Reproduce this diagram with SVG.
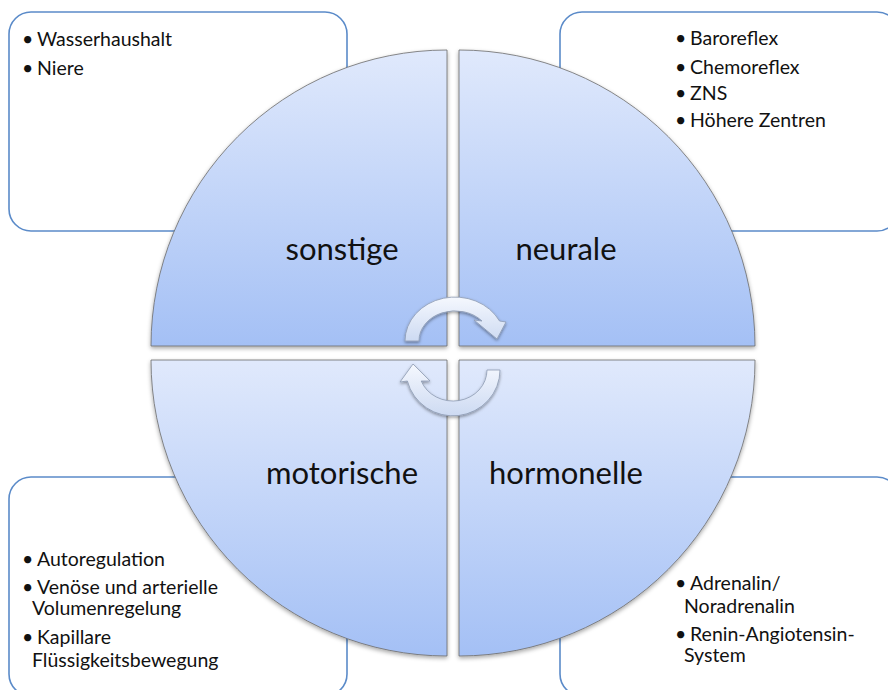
<svg xmlns="http://www.w3.org/2000/svg" width="888" height="690" viewBox="0 0 888 690">
<style>
.box{fill:#ffffff;stroke:#5b8bc9;stroke-width:1.6}
.quad{stroke:#6b6b6b;stroke-width:0.8;filter:url(#sh)}
.lbl{font-family:Lato,"Open Sans","Liberation Sans",sans-serif;font-size:31px;fill:#111;text-anchor:middle}
.item{font-family:Lato,"Open Sans","Liberation Sans",sans-serif;font-size:19.5px;fill:#111}
.arrow{fill:url(#ag);stroke:#8d9bb3;stroke-width:0.8;filter:url(#ash)}
</style>
<defs>
<linearGradient id="qg" x1="0" y1="0" x2="0" y2="1">
<stop offset="0" stop-color="#e0e9fc"/>
<stop offset="1" stop-color="#a4c0f5"/>
</linearGradient>
<linearGradient id="ag" x1="0" y1="0" x2="0" y2="1">
<stop offset="0" stop-color="#f5f8fe"/>
<stop offset="1" stop-color="#cddaf2"/>
</linearGradient>
<filter id="sh" x="-10%" y="-10%" width="120%" height="120%">
<feDropShadow dx="0" dy="2" stdDeviation="2" flood-color="#000" flood-opacity="0.35"/>
</filter>
<filter id="ash" x="-20%" y="-20%" width="140%" height="140%">
<feDropShadow dx="0" dy="1.5" stdDeviation="1.5" flood-color="#000" flood-opacity="0.4"/>
</filter>
</defs>

<g id="box-sonstige">
<rect class="box" x="9" y="12" width="338" height="219" rx="22"/>
<text class="item" x="22" y="46"><tspan>•</tspan><tspan x="37">Wasserhaushalt</tspan></text>
<text class="item" x="22" y="75"><tspan>•</tspan><tspan x="37">Niere</tspan></text>
</g>
<g id="box-neurale">
<rect class="box" x="560" y="12" width="339" height="219" rx="22"/>
<text class="item" x="675" y="45"><tspan>•</tspan><tspan x="690">Baroreflex</tspan></text>
<text class="item" x="675" y="74"><tspan>•</tspan><tspan x="690">Chemoreflex</tspan></text>
<text class="item" x="675" y="100"><tspan>•</tspan><tspan x="690">ZNS</tspan></text>
<text class="item" x="675" y="127"><tspan>•</tspan><tspan x="690">Höhere Zentren</tspan></text>
</g>
<g id="box-motorische">
<rect class="box" x="9" y="477" width="338" height="219" rx="22"/>
<text class="item" x="22" y="566"><tspan>•</tspan><tspan x="37">Autoregulation</tspan></text>
<text class="item" x="22" y="594"><tspan>•</tspan><tspan x="37">Venöse und arterielle</tspan></text>
<text class="item" x="32" y="615">Volumenregelung</text>
<text class="item" x="22" y="644"><tspan>•</tspan><tspan x="37">Kapillare</tspan></text>
<text class="item" x="32" y="667">Flüssigkeitsbewegung</text>
</g>
<g id="box-hormonelle">
<rect class="box" x="560" y="477" width="339" height="219" rx="22"/>
<text class="item" x="675" y="590"><tspan>•</tspan><tspan x="690">Adrenalin/</tspan></text>
<text class="item" x="684" y="613">Noradrenalin</text>
<text class="item" x="675" y="641"><tspan>•</tspan><tspan x="690">Renin-Angiotensin-</tspan></text>
<text class="item" x="684" y="662">System</text>
</g>

<g id="quad-sonstige">
<path class="quad" fill="url(#qg)" d="M447,346 L151,346 A296,296 0 0 1 447,50 Z"/>
<text class="lbl" x="342" y="260">sonstige</text>
</g>
<g id="quad-neurale">
<path class="quad" fill="url(#qg)" d="M459,346 L459,50 A296,296 0 0 1 755,346 Z"/>
<text class="lbl" x="566" y="260">neurale</text>
</g>
<g id="quad-motorische">
<path class="quad" fill="url(#qg)" d="M447,360 L447,656 A296,296 0 0 1 151,360 Z"/>
<text class="lbl" x="342" y="484">motorische</text>
</g>
<g id="quad-hormonelle">
<path class="quad" fill="url(#qg)" d="M459,360 L755,360 A296,296 0 0 1 459,656 Z"/>
<text class="lbl" x="566" y="484">hormonelle</text>
</g>

<g id="connectors">
<path class="arrow" d="M405,341 A50,44 0 0 1 499.5,321 L506,322 L497,339 L474,320 L482,321 A36,30 0 0 0 419,341 Z"/>
<path class="arrow" d="M500,370 A47,46 0 0 1 407.4,381 L400,382 L413,364 L430,381 L421.2,381 A34,31 0 0 0 487,370 Z"/>
</g>
</svg>
